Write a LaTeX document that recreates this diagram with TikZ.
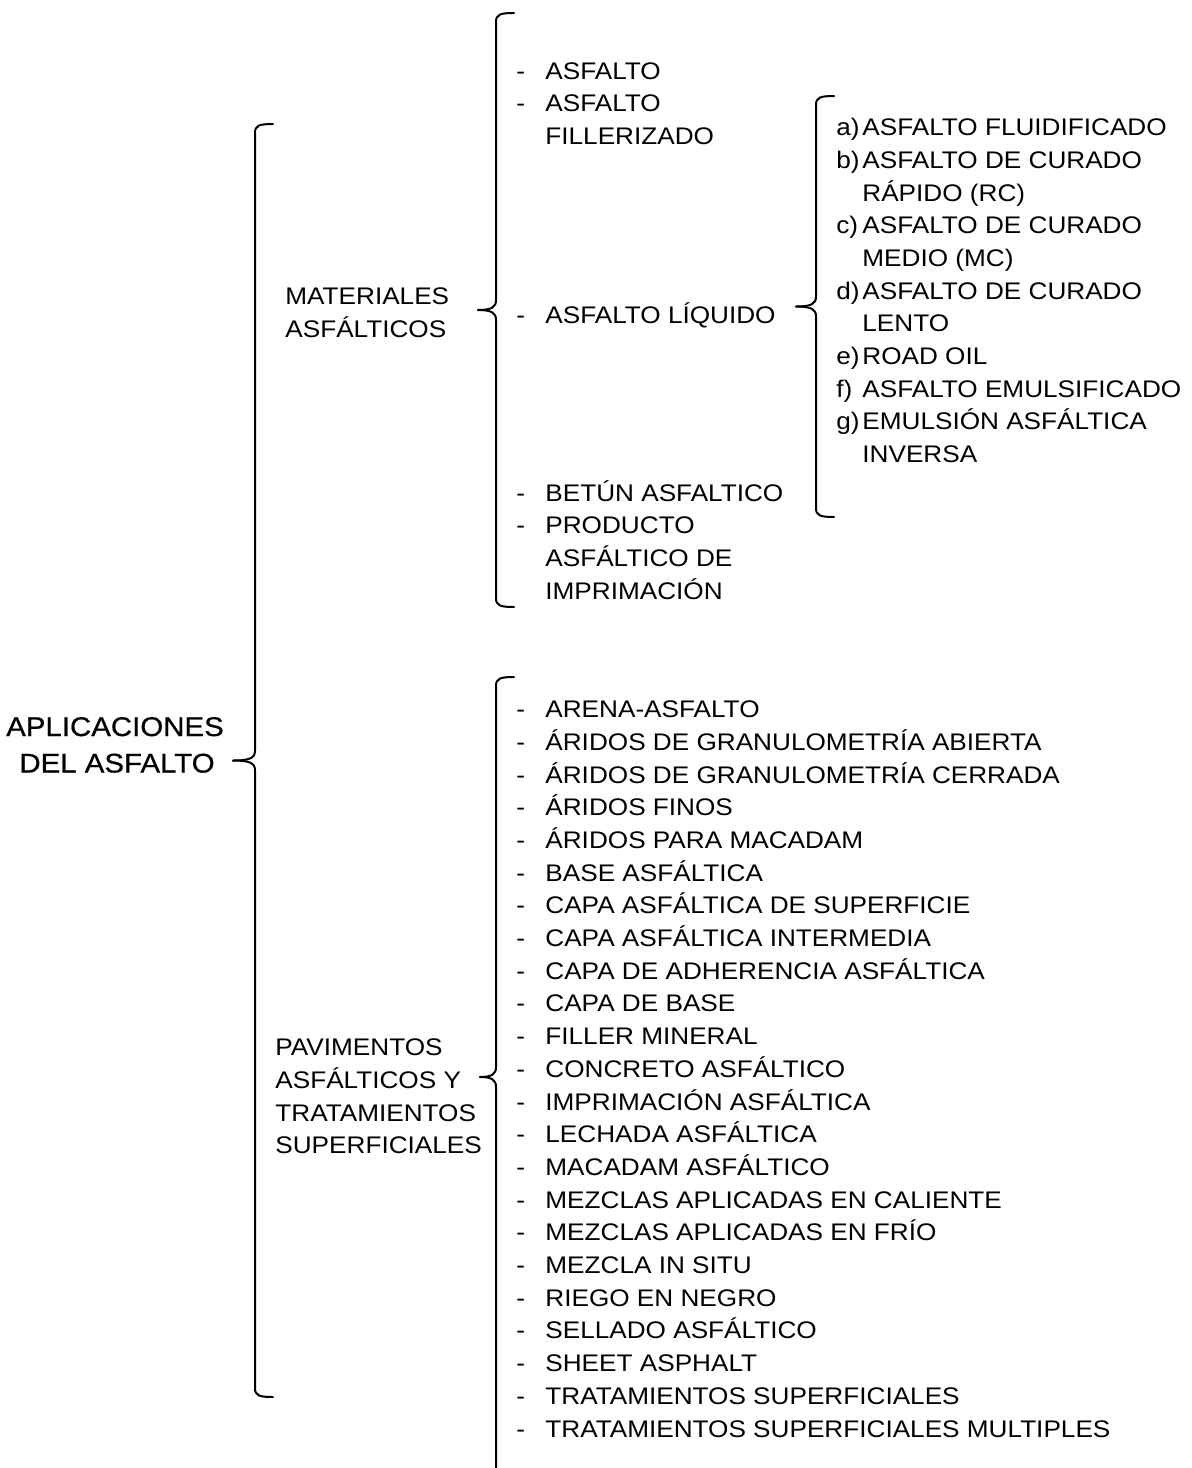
\documentclass[tikz,border=0pt]{standalone}
\usepackage{fontspec}
\setmainfont{Liberation Sans}[FakeStretch=1.09]
\newfontfamily\rootfamily{Liberation Sans}[FakeStretch=1.09, FakeBold=0.6]
\usetikzlibrary{positioning}

\newcommand{\itemfont}{\fontsize{12}{16}\selectfont}
\newcommand{\rootfont}{\rootfamily\fontsize{13.5}{17}\selectfont}

% brace: #1 spine x, #2 top y, #3 bottom y, #4 tip y, #5 tip x
\newcommand{\drawbrace}[5]{%
  \draw[bracepath] (#1+18,#2) .. controls (#1+4,#2) and (#1,#2+1.5) .. (#1,#2+9)
    -- (#1,#4-10) .. controls (#1,#4-3) and (#1-4,#4) .. (#5,#4);
  \draw[bracepath] (#5,#4) .. controls (#1-4,#4) and (#1,#4+3) .. (#1,#4+10)
    -- (#1,#3-9) .. controls (#1,#3-1.5) and (#1+4,#3) .. (#1+18,#3);
}

\begin{document}
\begin{tikzpicture}[
  x=0.5pt, y=-0.5pt,
  txt/.style={anchor=base west, inner sep=0pt, font=\itemfont},
  roottxt/.style={anchor=base, inner sep=0pt, font=\rootfont},
  bracepath/.style={line width=1pt, line cap=round}
]
\useasboundingbox (0,0) rectangle (1192,1468);
\clip (0,0) rectangle (1192,1468);

% ---- Root ----------------------------------------------------------------
\node[roottxt] (root1) at (115,736) {APLICACIONES};
\node[roottxt] (root2) at (117,772.5) {DEL ASFALTO};
\drawbrace{255}{124}{1397}{760.5}{233}

% ---- Materiales asfalticos --------------------------------------------------
\node[txt] (mat1) at (285,304.6) {MATERIALES};
\node[txt] (mat2) at (285,337) {ASFÁLTICOS};
\drawbrace{496}{13}{607}{310}{478}

\node[txt] (d1) at (516,79)    {-};
\node[txt] (m1) at (545,79)    {ASFALTO};
\node[txt] (d2) at (516,111.6) {-};
\node[txt] (m2) at (545,111.6) {ASFALTO};
\node[txt] (m2b) at (545,144.3) {FILLERIZADO};
\node[txt] (d3) at (516,323)   {-};
\node[txt] (m3) at (545,323)   {ASFALTO LÍQUIDO};
\node[txt] (d4) at (516,501)   {-};
\node[txt] (m4) at (545,501)   {BETÚN ASFALTICO};
\node[txt] (d5) at (516,533.7) {-};
\node[txt] (m5) at (545,533.7) {PRODUCTO};
\node[txt] (m5b) at (545,566.4) {ASFÁLTICO DE};
\node[txt] (m5c) at (545,599.1) {IMPRIMACIÓN};

% ---- Asfalto liquido ---------------------------------------------------------
\drawbrace{816}{96}{517}{306.5}{796}
\foreach \lab/\txt [count=\i from 0] in {a)/ASFALTO FLUIDIFICADO, b)/ASFALTO DE CURADO,
    /RÁPIDO (RC), c)/ASFALTO DE CURADO, /MEDIO (MC), d)/ASFALTO DE CURADO, /LENTO,
    e)/ROAD OIL, f)/ASFALTO EMULSIFICADO, g)/EMULSIÓN ASFÁLTICA, /INVERSA}{
  \node[txt] (liqlab-\i) at (836,{135.6+32.7*\i}) {\lab};
  \node[txt] (liq-\i) at (862,{135.6+32.7*\i}) {\txt};
}

% ---- Pavimentos asfalticos ---------------------------------------------------
\node[txt] (pav1) at (275,1055.6) {PAVIMENTOS};
\node[txt] (pav2) at (275,1088.3) {ASFÁLTICOS Y};
\node[txt] (pav3) at (275,1121)   {TRATAMIENTOS};
\node[txt] (pav4) at (275,1153.7) {SUPERFICIALES};
\drawbrace{496}{677}{1477}{1077}{480}

\foreach \txt [count=\i from 0] in {ARENA-ASFALTO, ÁRIDOS DE GRANULOMETRÍA ABIERTA,
    ÁRIDOS DE GRANULOMETRÍA CERRADA, ÁRIDOS FINOS, ÁRIDOS PARA MACADAM,
    BASE ASFÁLTICA, CAPA ASFÁLTICA DE SUPERFICIE, CAPA ASFÁLTICA INTERMEDIA,
    CAPA DE ADHERENCIA ASFÁLTICA, CAPA DE BASE, FILLER MINERAL,
    CONCRETO ASFÁLTICO, IMPRIMACIÓN ASFÁLTICA, LECHADA ASFÁLTICA,
    MACADAM ASFÁLTICO, MEZCLAS APLICADAS EN CALIENTE, MEZCLAS APLICADAS EN FRÍO,
    MEZCLA IN SITU, RIEGO EN NEGRO, SELLADO ASFÁLTICO, SHEET ASPHALT,
    TRATAMIENTOS SUPERFICIALES, TRATAMIENTOS SUPERFICIALES MULTIPLES}{
  \node[txt] (pavdash-\i) at (516,{717.6+32.7*\i}) {-};
  \node[txt] (pavitem-\i) at (545,{717.6+32.7*\i}) {\txt};
}

\end{tikzpicture}
\end{document}
